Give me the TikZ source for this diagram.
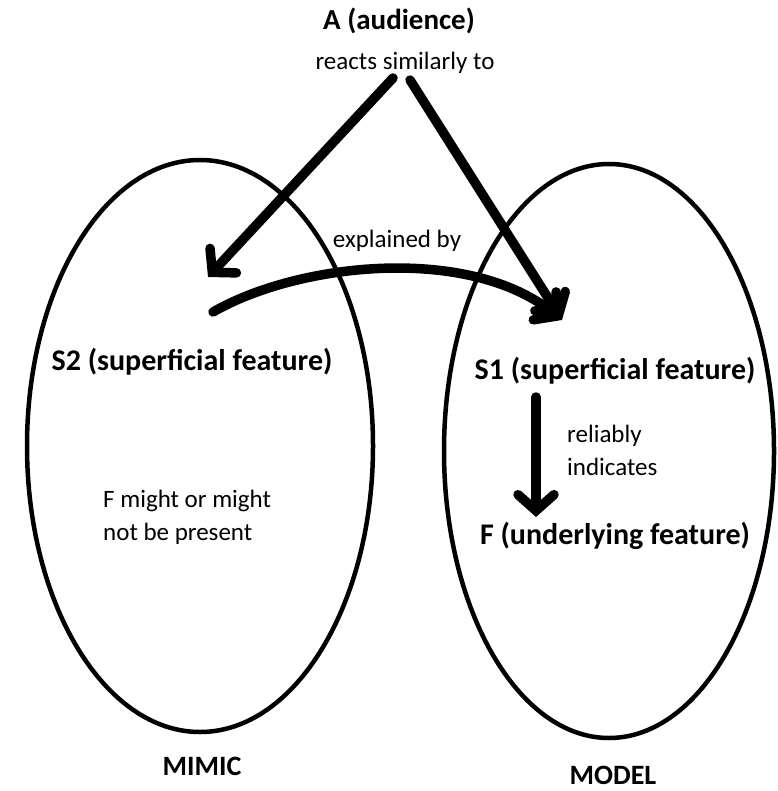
\documentclass[tikz,border=0pt]{standalone}
\usepackage{fontspec}
\setmainfont{Carlito}
\usetikzlibrary{arrows.meta,positioning}

\begin{document}
\begin{tikzpicture}[x=1pt, y=-1pt,
boldlabel/.style={font=\bfseries\fontsize{30}{34}\selectfont, inner sep=0pt},
toplabel/.style={font=\bfseries\fontsize{29}{33}\selectfont, inner sep=0pt},
setlabel/.style={font=\bfseries\fontsize{28}{32}\selectfont, inner sep=0pt},
plainlabel/.style={font=\fontsize{25}{33}\selectfont, inner sep=0pt},
bigarrow/.style={line width=9.5pt, line cap=round, -{Straight Barb[length=16pt, width=36pt, line cap=round]}},
setline/.style={line width=4.5pt},
]
\useasboundingbox (0,0) rectangle (777,791);

%Sets
\draw[setline] (200,446) ellipse [x radius=173, y radius=286];
\draw[setline] (609,451) ellipse [x radius=165, y radius=287];

%Nodes
\node[toplabel]   (audience)  at (399,21)  {A (audience)};
\node[plainlabel] (reacts)    at (405,63)  {reacts similarly to};
\node[plainlabel] (explained) at (397,241) {explained by};
\node[boldlabel]  (S2)        at (192,362) {S2 (superficial feature)};
\node[boldlabel]  (S1)        at (615,371) {S1 (superficial feature)};
\node[boldlabel]  (F)         at (615,536) {F (underlying feature)};
\node[plainlabel, align=left, anchor=west] (indicates) at (567,450) {reliably\\indicates};
\node[plainlabel, align=left, anchor=west] (present)   at (103,517) {F might or might\\not be present};
\node[setlabel]   (mimic)     at (202,766) {MIMIC};
\node[setlabel]   (model)     at (613,775) {MODEL};

\coordinate (leftstart)  at (393,78);
\coordinate (rightstart) at (410,80);
\coordinate (S2tip)      at (208,277);
\coordinate (S1tip)      at (562,320);
\coordinate (S2from)     at (213,312);
\coordinate (Ftop)       at (536,397);
\coordinate (Ftip)       at (536,517);

%Lines
\draw[bigarrow] (leftstart) -- (S2tip);
\draw[bigarrow] (rightstart) -- (S1tip);
\draw[bigarrow] (S2from) .. controls (300,262) and (470,245) .. (S1tip);
\draw[bigarrow] (Ftop) -- (Ftip);
\end{tikzpicture}
\end{document}
